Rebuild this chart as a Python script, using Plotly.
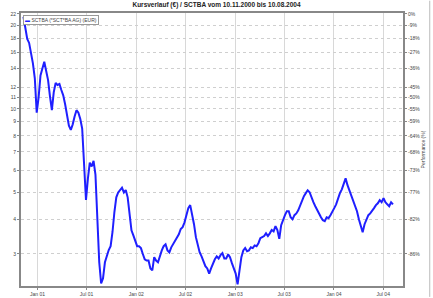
import pandas as pd
import plotly.graph_objects as go

# weekly closing prices (EUR)
start_date = "2000-11-10"
prices = [
    21.5, 19.4, 17.9, 17.3, 15.9, 14.6, 12.9, 9.7, 11.0, 13.2,
    14.0, 14.8, 13.7, 12.7, 11.1, 9.9, 11.5, 12.4, 12.2, 12.3,
    11.7, 11.2, 10.4, 9.5, 8.7, 8.4, 8.8, 9.4, 9.9, 9.7,
    9.2, 8.5, 6.6, 4.7, 5.6, 6.4, 6.2, 6.5, 5.8, 4.0,
    2.8, 2.35, 2.45, 2.8, 2.95, 3.1, 3.2, 3.6, 4.25, 4.8,
    5.0, 5.1, 5.2, 5.0, 5.1, 4.8, 4.05, 3.65, 3.5, 3.35,
    3.2, 3.2, 3.15, 3.0, 2.87, 2.84, 2.84, 2.66, 2.62, 2.92,
    2.84, 2.8, 2.97, 3.09, 3.2, 3.25, 3.09, 3.04, 3.17, 3.25,
    3.33, 3.42, 3.53, 3.69, 3.75, 3.9, 4.14, 4.39, 4.5, 4.17,
    3.84, 3.45, 3.2, 3.04, 2.94, 2.82, 2.71, 2.66, 2.55, 2.66,
    2.78, 2.87, 2.94, 2.89, 2.97, 3.02, 2.89, 2.89, 2.99, 2.92,
    2.78, 2.68, 2.55, 2.33, 2.62, 2.92, 3.09, 3.15, 3.07, 3.09,
    3.17, 3.15, 3.22, 3.2, 3.28, 3.42, 3.45, 3.48, 3.56, 3.48,
    3.56, 3.66, 3.62, 3.78, 3.66, 3.4, 3.81, 4.0, 4.14, 4.28,
    4.28, 4.07, 4.0, 4.14, 4.2, 4.31, 4.5, 4.69, 4.85, 4.97,
    5.09, 5.01, 4.77, 4.61, 4.46, 4.31, 4.17, 4.07, 3.97, 3.94,
    4.07, 4.04, 4.14, 4.24, 4.39, 4.53, 4.77, 4.97, 5.13, 5.4,
    5.62, 5.31, 5.09, 4.89, 4.69, 4.5, 4.28, 4.0, 3.78, 3.59,
    3.84, 4.0, 4.14, 4.2, 4.28, 4.39, 4.5, 4.57, 4.69, 4.61,
    4.77, 4.61, 4.53, 4.46, 4.61, 4.53,
]
dates = pd.date_range(start=start_date, periods=len(prices), freq="7D")

price_ticks = [3, 4, 5, 6, 7, 8, 9, 10, 11, 12, 14, 16, 18, 20, 22]
price_labels = ["3", "4", "5", "6", "7", "8", "9", "10", "11", "12", "14", "16", "18", "20", "22"]
perf_labels = ["-86%", "-82%", "-77%", "-73%", "-68%", "-64%", "-59%", "-55%", "-50%",
               "-45%", "-36%", "-27%", "-18%", "-9%", "0%"]
x_ticks = ["2001-01-01", "2001-07-01", "2002-01-01", "2002-07-01",
           "2003-01-01", "2003-07-01", "2004-01-01", "2004-07-01"]
x_labels = ["Jan 01", "Jul 01", "Jan 02", "Jul 02", "Jan 03", "Jul 03", "Jan 04", "Jul 04"]

series_name = "SCTBA (*SCT*BA AG) (EUR)"
title_text = "Kursverlauf (€) / SCTBA vom 10.11.2000 bis 10.08.2004"

fig = go.Figure()
fig.add_trace(go.Scatter(x=dates, y=prices, mode="lines", name=series_name,
                         line=dict(color="#1f1fff", width=2)))
fig.add_trace(go.Scatter(x=dates, y=prices, mode="lines", yaxis="y2", showlegend=False,
                         hoverinfo="skip", line=dict(color="rgba(0,0,0,0)", width=0)))

yr = [0.3616, 1.346]
fig.update_layout(
    width=433, height=298,
    margin=dict(l=21, r=30, t=13, b=12, autoexpand=False),
    paper_bgcolor="white", plot_bgcolor="white",
    font=dict(family="Liberation Sans, Arial, sans-serif", size=5, color="#444"),
    title=dict(text="<b>" + title_text + "</b>", x=0.5, xanchor="center",
               y=0.992, yanchor="top", font=dict(size=6.5, color="#222")),
    showlegend=False,
    xaxis=dict(type="date", range=["2000-11-01", "2004-09-12"], automargin=False,
               tickvals=x_ticks, ticktext=x_labels, tickfont=dict(size=5),
               showgrid=True, gridcolor="#d8d8d8", gridwidth=1,
               showline=True, linecolor="#888", linewidth=2, mirror=True,
               ticks="outside", ticklen=2, tickcolor="#888", zeroline=False),
    yaxis=dict(type="log", range=yr, tickvals=price_ticks, ticktext=price_labels,
               automargin=False,
               tickfont=dict(size=5), showgrid=True, gridcolor="#cfcfcf",
               griddash="dot", gridwidth=1,
               showline=True, linecolor="#888", linewidth=2, mirror=True,
               ticks="outside", ticklen=2, tickcolor="#888", zeroline=False),
    yaxis2=dict(type="log", range=yr, overlaying="y", side="right", automargin=False,
                tickvals=price_ticks, ticktext=perf_labels, tickfont=dict(size=5),
                showgrid=False, ticks="outside", ticklen=3, tickcolor="#888",
                title=dict(text="Performance (%)", font=dict(size=5, color="#444"),
                           standoff=2),
                zeroline=False),
)
# legend box drawn as an annotation (compact, like the reference)
fig.add_annotation(xref="paper", yref="paper", x=0.006, y=0.994,
                   xanchor="left", yanchor="top", showarrow=False,
                   text="<span style='color:#1f1fff'><b>▬</b></span> " + series_name,
                   font=dict(size=5, color="#444"), bgcolor="white",
                   bordercolor="#999", borderwidth=1, borderpad=1)
fig.add_shape(type="line", xref="paper", yref="paper", x0=1.07, x1=1.07,
              y0=-0.04, y1=1.045, line=dict(color="#bbb", width=1))

fig.write_html("out.html", config={"displayModeBar": False},
               post_script="document.body.style.margin='0';")
